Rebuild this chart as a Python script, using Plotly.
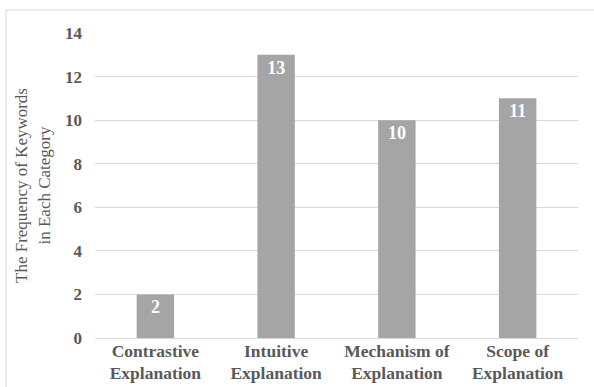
import plotly.graph_objects as go

categories = ["Contrastive<br>Explanation", "Intuitive<br>Explanation",
              "Mechanism of<br>Explanation", "Scope of<br>Explanation"]
frequencies = [2, 13, 10, 11]
y_ticks = [0, 2, 4, 6, 8, 10, 12, 14]

W, H = 594, 387
L, R, T, B = 95, 16, 33, 49
PW, PH = W - L - R, H - T - B

fig = go.Figure(go.Bar(
    x=categories,
    y=frequencies,
    marker=dict(color="#A5A5A5", line=dict(width=0)),
    text=[str(v) for v in frequencies],
    textposition="inside",
    insidetextanchor="end",
    textangle=0,
    textfont=dict(family="Liberation Serif", size=18, color="white", weight="bold"),
    cliponaxis=False,
))

# chart-area frame: top and left edges
frame_left = (6 - L) / PW
frame_top = (H - 10 - B) / PH
frame_bottom = -B / PH
frame_right = (W - L) / PW

fig.update_layout(
    width=W, height=H,
    margin=dict(l=L, r=R, t=T, b=B, autoexpand=False),
    paper_bgcolor="white",
    plot_bgcolor="white",
    bargap=0.69,
    showlegend=False,
    font=dict(family="Liberation Serif", color="#595959"),
    xaxis=dict(
        showgrid=False, showline=False, zeroline=False, ticks="",
        automargin=False,
        tickfont=dict(family="Liberation Serif", size=17.5, color="#595959", weight="bold"),
    ),
    yaxis=dict(
        range=[0, 14], tickvals=y_ticks, automargin=False,
        showgrid=True, gridcolor="#D9D9D9", gridwidth=1,
        zeroline=True, zerolinecolor="#D9D9D9", zerolinewidth=1,
        showline=False, ticks="", ticklabelstandoff=12,
        tickfont=dict(family="Liberation Serif", size=17, color="#595959", weight="bold"),
        title=dict(text="The Frequency of Keywords<br>in Each Category",
                   font=dict(family="Liberation Serif", size=17, color="#595959"),
                   standoff=10),
    ),
    shapes=[
        dict(type="line", xref="paper", yref="paper",
             x0=frame_left, x1=frame_right, y0=frame_top, y1=frame_top,
             line=dict(color="#D9D9D9", width=1), layer="below"),
        dict(type="line", xref="paper", yref="paper",
             x0=frame_left, x1=frame_left, y0=frame_bottom, y1=frame_top,
             line=dict(color="#D9D9D9", width=1), layer="below"),
    ],
)

fig.write_html("out.html")
